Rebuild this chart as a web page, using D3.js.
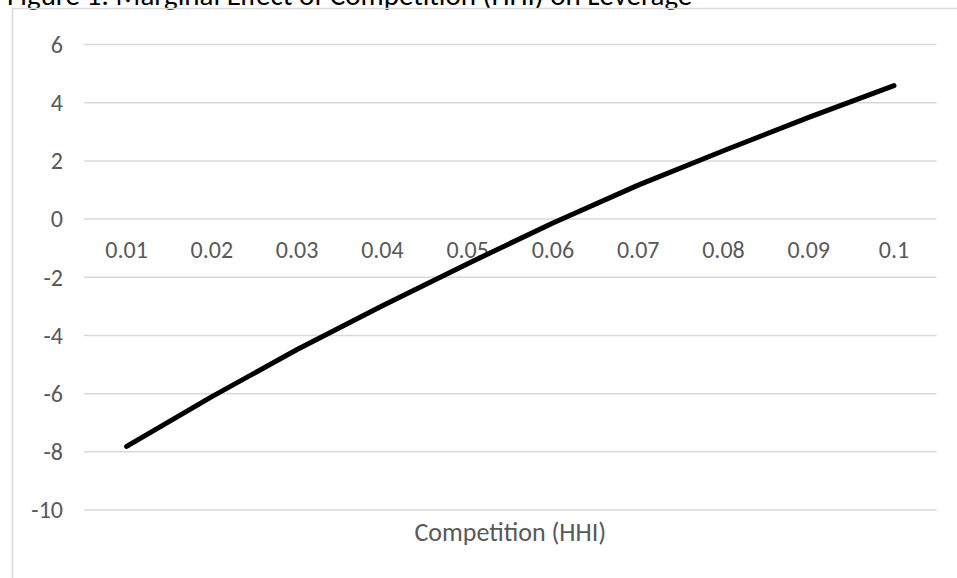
<!DOCTYPE html>
<html>
<head>
<meta charset="utf-8">
<script src="https://cdn.jsdelivr.net/npm/d3@7"></script>
<style>
  html, body { margin: 0; padding: 0; background: #fff; overflow: hidden; }
  svg { display: block; }
  text { font-family: Carlito, Calibri, Lato, "Open Sans", sans-serif; fill: #595959; }
</style>
</head>
<body>
<svg id="chart" width="957" height="578"></svg>
<script>
// HHI levels on the category axis
const categories = ["0.01", "0.02", "0.03", "0.04", "0.05", "0.06", "0.07", "0.08", "0.09", "0.1"];
// Marginal effect of competition on leverage at each HHI level
const marginalEffect = [-7.83, -6.12, -4.5, -3.0, -1.55, -0.15, 1.15, 2.33, 3.48, 4.57];
// Value-axis ticks
const yTicks = [-10, -8, -6, -4, -2, 0, 2, 4, 6];

const chartTitle = "Figure 1: Marginal Effect of Competition (HHI) on Leverage";
const xAxisTitle = "Competition (HHI)";

const svg = d3.select("#chart");
const W = 957, H = 578;

const plot = { left: 84, right: 936.6, top: 44, bottom: 509.5 };

const x = d3.scaleBand()
  .domain(categories)
  .range([plot.left, plot.right])
  .paddingInner(0).paddingOuter(0);

const y = d3.scaleLinear()
  .domain([-10, 6])
  .range([plot.bottom, plot.top]);

// Title sits above the chart frame
svg.append("text")
  .attr("x", 7)
  .attr("y", 5)
  .attr("font-size", 29)
  .style("fill", "#000")
  .text(chartTitle);

// Chart frame
svg.append("rect")
  .attr("x", 12.5)
  .attr("y", 8.5)
  .attr("width", W + 20)
  .attr("height", H + 20)
  .attr("fill", "none")
  .attr("stroke", "#d9d9d9")
  .attr("stroke-width", 1.5);

// Horizontal gridlines and value labels (plain hyphen for negatives)
const yAxis = d3.axisLeft(y)
  .tickValues(yTicks)
  .tickSize(-(plot.right - plot.left))
  .tickPadding(21)
  .tickFormat(d => String(d));

const gy = svg.append("g")
  .attr("transform", `translate(${plot.left},0)`)
  .call(yAxis);
gy.select(".domain").remove();
gy.selectAll(".tick line").attr("stroke", "#d9d9d9").attr("stroke-width", 1.5);
gy.selectAll(".tick text")
  .attr("font-size", 24)
  .style("fill", "#595959")
  .attr("dy", "0.35em");

// Category labels sit below the zero line
const xAxis = d3.axisBottom(x).tickSize(0).tickPadding(22);
const gx = svg.append("g")
  .attr("transform", `translate(0,${y(0)})`)
  .call(xAxis);
gx.select(".domain").remove();
gx.selectAll(".tick text")
  .attr("font-size", 24)
  .style("fill", "#595959");

// Axis title
svg.append("text")
  .attr("x", (plot.left + plot.right) / 2)
  .attr("y", 541)
  .attr("text-anchor", "middle")
  .attr("font-size", 26)
  .text(xAxisTitle);

// Marginal effect line
const line = d3.line()
  .x((d, i) => x(categories[i]) + x.bandwidth() / 2)
  .y(d => y(d));

svg.append("path")
  .datum(marginalEffect)
  .attr("d", line)
  .attr("fill", "none")
  .attr("stroke", "#000")
  .attr("stroke-width", 5)
  .attr("stroke-linecap", "round")
  .attr("stroke-linejoin", "round");
</script>
</body>
</html>
